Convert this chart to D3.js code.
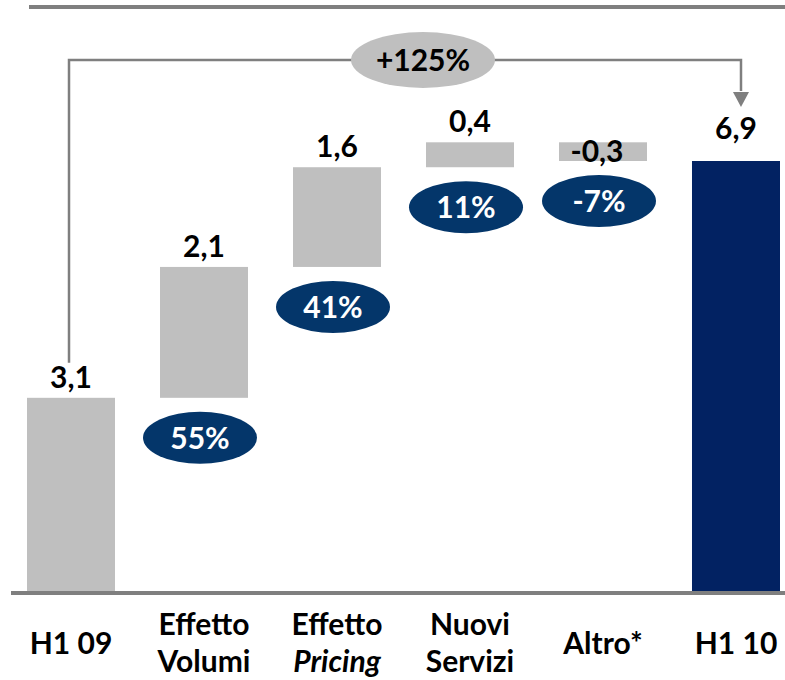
<!DOCTYPE html>
<html>
<head>
<meta charset="utf-8">
<script src="https://cdn.jsdelivr.net/npm/d3@7"></script>
<style>
  html, body { margin: 0; padding: 0; background: #fff; }
  svg { display: block; font-family: Lato, "Open Sans", sans-serif; }
</style>
</head>
<body>
<svg id="chart" width="785" height="680"></svg>
<script>
// ---- data ----
const categories = ["H1 09", "Effetto Volumi", "Effetto Pricing", "Nuovi Servizi", "Altro*", "H1 10"];
const categoryLines = [["H1 09"], ["Effetto", "Volumi"], ["Effetto", "Pricing"], ["Nuovi", "Servizi"], ["Altro*"], ["H1 10"]];
const italicWords = ["Pricing"];
const values = [3.1, 2.1, 1.6, 0.4, -0.3, 6.9];
const kinds = ["start", "delta", "delta", "delta", "delta", "total"];
const shares = [null, 55, 41, 11, -7, null];
const totalChange = "+125%";

// ---- layout ----
const FS = 30;
const svg = d3.select("#chart");
const baseY = 591;
const x = d3.scaleBand().domain(categories).range([4.5, 802.5]).paddingInner(0.3383).paddingOuter(0.1692);
const y = d3.scaleLinear().domain([0, 6.9]).range([baseY, 161]);

const loc = d3.formatLocale({ decimal: ",", thousands: ".", grouping: [3], currency: ["", "€"], minus: "-" });
const fmt = loc.format(".1f");

// waterfall bars
let run = 0;
const bars = categories.map((c, i) => {
  let lo, hi;
  if (kinds[i] === "delta") {
    const a = run, b = run + values[i];
    lo = Math.min(a, b); hi = Math.max(a, b); run = b;
  } else {
    lo = 0; hi = values[i]; run = values[i];
  }
  return { c, i, v: values[i], lo, hi, kind: kinds[i], share: shares[i] };
});

// top rule
svg.append("line").attr("x1", 29).attr("x2", 785).attr("y1", 7).attr("y2", 7)
  .attr("stroke", "#7f7f7f").attr("stroke-width", 4);

// bars
svg.append("g").selectAll("rect").data(bars).join("rect")
  .attr("x", d => x(d.c))
  .attr("width", x.bandwidth())
  .attr("y", d => y(d.hi))
  .attr("height", d => y(d.lo) - y(d.hi))
  .attr("fill", d => d.kind === "total" ? "#022262" : "#bfbfbf");

// baseline
svg.append("line").attr("x1", 11).attr("x2", 785).attr("y1", baseY + 2).attr("y2", baseY + 2)
  .attr("stroke", "#7f7f7f").attr("stroke-width", 4);

// value labels
svg.append("g").selectAll("text").data(bars).join("text")
  .attr("x", d => x(d.c) + x.bandwidth() / 2 - (d.v < 0 ? 6 : 0))
  .attr("y", d => d.v < 0 ? y(d.lo) + 1 : y(d.hi) - (d.kind === "total" ? 22 : 10))
  .attr("text-anchor", "middle")
  .attr("font-size", FS).attr("font-weight", 700).attr("fill", "#000")
  .text(d => fmt(d.v));

// share ellipses
const sg = svg.append("g").selectAll("g").data(bars.filter(d => d.share !== null)).join("g")
  .attr("transform", d => `translate(${x(d.c) + x.bandwidth() / 2 - 4},${y(d.lo) + 40})`);
sg.append("ellipse").attr("rx", 57).attr("ry", 26).attr("fill", "#04366a");
sg.append("text").attr("text-anchor", "middle").attr("y", 11)
  .attr("font-size", FS).attr("font-weight", 700).attr("fill", "#fff")
  .text(d => loc.format("d")(d.share) + "%");

// bracket connector with arrow
const first = bars[0], last = bars[bars.length - 1];
const bx1 = x(first.c) + x.bandwidth() / 2 - 2;
const bx2 = x(last.c) + x.bandwidth() / 2 + 5;
const bTop = 60;
svg.append("path")
  .attr("d", `M${bx1},${y(first.hi) - 35} V${bTop} H${bx2} V${y(last.hi) - 70}`)
  .attr("fill", "none").attr("stroke", "#7f7f7f").attr("stroke-width", 2.5);
const tipY = y(last.hi) - 54;
svg.append("path")
  .attr("d", `M${bx2 - 8},${tipY - 15} L${bx2 + 8},${tipY - 15} L${bx2},${tipY} Z`)
  .attr("fill", "#7f7f7f");
svg.append("ellipse").attr("cx", 423).attr("cy", bTop).attr("rx", 72).attr("ry", 28).attr("fill", "#bfbfbf");
svg.append("text").attr("x", 423).attr("y", bTop + 11).attr("text-anchor", "middle")
  .attr("font-size", FS).attr("font-weight", 700).attr("fill", "#000").text(totalChange);

// category axis labels
const axis = d3.axisBottom(x).tickSize(0).tickFormat("");
const ax = svg.append("g").attr("transform", `translate(0,${baseY})`).call(axis);
ax.select(".domain").remove();
ax.selectAll(".tick").each(function (c, i) {
  const lines = categoryLines[categories.indexOf(c)];
  const t = d3.select(this).append("text")
    .attr("text-anchor", "middle").attr("fill", "#000")
    .attr("font-size", FS).attr("font-weight", 700)
    .attr("font-family", 'Lato, "Open Sans", sans-serif');
  const y0 = lines.length === 1 ? 63 : 44;
  lines.forEach((ln, k) => {
    t.append("tspan").attr("x", 0).attr("y", y0 + k * 37)
      .attr("font-style", italicWords.includes(ln) ? "italic" : "normal")
      .text(ln);
  });
});
</script>
</body>
</html>
